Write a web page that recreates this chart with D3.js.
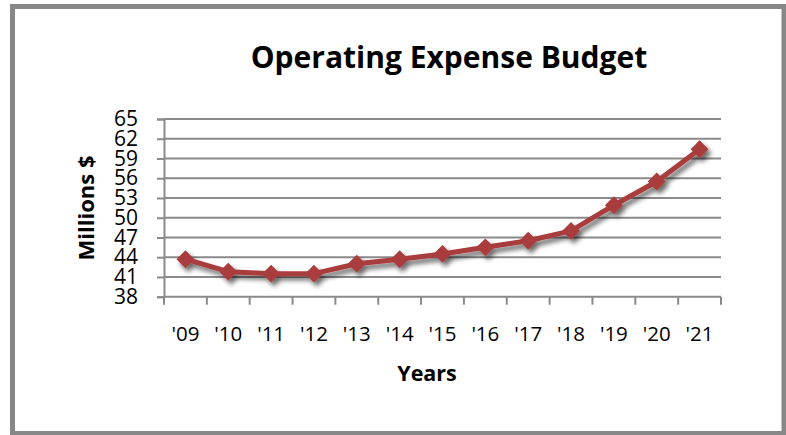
<!DOCTYPE html>
<html>
<head>
<meta charset="utf-8">
<script src="https://cdn.jsdelivr.net/npm/d3@7"></script>
<style>
  html, body { margin: 0; padding: 0; background: #fff; }
  svg { display: block; }
  text { font-family: "Open Sans", "Liberation Sans", sans-serif; fill: #000; }
</style>
</head>
<body>
<svg id="chart" width="786" height="435"></svg>
<script>
// Operating expense budget, millions of dollars per fiscal year
const years = ["'09", "'10", "'11", "'12", "'13", "'14", "'15", "'16", "'17", "'18", "'19", "'20", "'21"];
const budget = [43.7, 41.8, 41.5, 41.5, 43.0, 43.7, 44.5, 45.5, 46.5, 48.0, 51.9, 55.5, 60.4];
const yTicks = [38, 41, 44, 47, 50, 53, 56, 59, 62, 65];

const title = "Operating Expense Budget";
const xTitle = "Years";
const yTitle = "Millions $";

const svg = d3.select("#chart");

// outer frame
svg.append("rect")
  .attr("x", 12.5).attr("y", 6.5)
  .attr("width", 771.5).attr("height", 427)
  .attr("fill", "#fff")
  .attr("stroke", "#878787").attr("stroke-width", 5);

const plot = { left: 164, right: 721, top: 119, bottom: 296.7 };

const x = d3.scaleBand().domain(years).range([plot.left, plot.right]).padding(0);
const y = d3.scaleLinear().domain([38, 65]).range([plot.bottom, plot.top]);

const defs = svg.append("defs");
const shadow = defs.append("filter").attr("id", "shadow")
  .attr("x", "-50%").attr("y", "-50%").attr("width", "200%").attr("height", "200%");
shadow.append("feGaussianBlur").attr("in", "SourceAlpha").attr("stdDeviation", 2.5).attr("result", "b");
shadow.append("feOffset").attr("in", "b").attr("dx", 3).attr("dy", 4).attr("result", "o");
shadow.append("feComponentTransfer").attr("in", "o").attr("result", "s")
  .append("feFuncA").attr("type", "linear").attr("slope", 0.6);
const merge = shadow.append("feMerge");
merge.append("feMergeNode").attr("in", "s");
merge.append("feMergeNode").attr("in", "SourceGraphic");

// horizontal gridlines
svg.append("g")
  .selectAll("line")
  .data(yTicks.filter(t => t !== 38))
  .join("line")
  .attr("x1", plot.left).attr("x2", plot.right)
  .attr("y1", d => y(d)).attr("y2", d => y(d))
  .attr("stroke", "#8a8a8a").attr("stroke-width", 2);

// y axis
const yAxis = svg.append("g")
  .attr("transform", `translate(${plot.left},0)`)
  .call(d3.axisLeft(y).tickValues(yTicks).tickSize(7).tickPadding(19).tickFormat(d3.format("d")));
yAxis.select(".domain").attr("stroke", "#8a8a8a").attr("stroke-width", 2);
yAxis.selectAll(".tick line").attr("stroke", "#8a8a8a").attr("stroke-width", 2);
yAxis.selectAll(".tick text")
  .attr("font-family", "Open Sans").attr("font-size", 21).attr("fill", "#000");

// x axis with ticks on category boundaries
const xAxisG = svg.append("g").attr("transform", `translate(0,${plot.bottom})`);
xAxisG.append("line")
  .attr("x1", plot.left).attr("x2", plot.right)
  .attr("stroke", "#8a8a8a").attr("stroke-width", 2);
const bounds = years.map(d => x(d)).concat([x(years[years.length - 1]) + x.bandwidth()]);
xAxisG.selectAll("line.tk")
  .data(bounds)
  .join("line").attr("class", "tk")
  .attr("x1", d => d).attr("x2", d => d)
  .attr("y1", 0).attr("y2", 8)
  .attr("stroke", "#8a8a8a").attr("stroke-width", 2);
xAxisG.selectAll("text")
  .data(years)
  .join("text")
  .attr("x", d => x(d) + x.bandwidth() / 2)
  .attr("y", 44)
  .attr("text-anchor", "middle")
  .attr("font-size", 20.5)
  .text(d => d);

// series line and diamond markers
const cx = (d, i) => x(years[i]) + x.bandwidth() / 2;
const series = svg.append("g").attr("filter", "url(#shadow)");
series.append("path")
  .datum(budget)
  .attr("fill", "none")
  .attr("stroke", "#a93c3c")
  .attr("stroke-width", 5)
  .attr("stroke-linejoin", "round")
  .attr("d", d3.line().x(cx).y(d => y(d)));
series.selectAll("path.pt")
  .data(budget)
  .join("path").attr("class", "pt")
  .attr("transform", (d, i) => `translate(${cx(d, i)},${y(d)}) rotate(45)`)
  .attr("d", d3.symbol().type(d3.symbolSquare).size(160))
  .attr("fill", "#a93c3c");

// titles
svg.append("text")
  .attr("x", 449).attr("y", 68)
  .attr("text-anchor", "middle")
  .attr("font-size", 30).attr("font-weight", "bold")
  .text(title);

svg.append("text")
  .attr("x", 427).attr("y", 381)
  .attr("text-anchor", "middle")
  .attr("font-size", 21.5).attr("font-weight", "bold")
  .text(xTitle);

svg.append("text")
  .attr("transform", "translate(94,208) rotate(-90)")
  .attr("text-anchor", "middle")
  .attr("font-size", 22).attr("font-weight", "bold")
  .text(yTitle);
</script>
</body>
</html>
